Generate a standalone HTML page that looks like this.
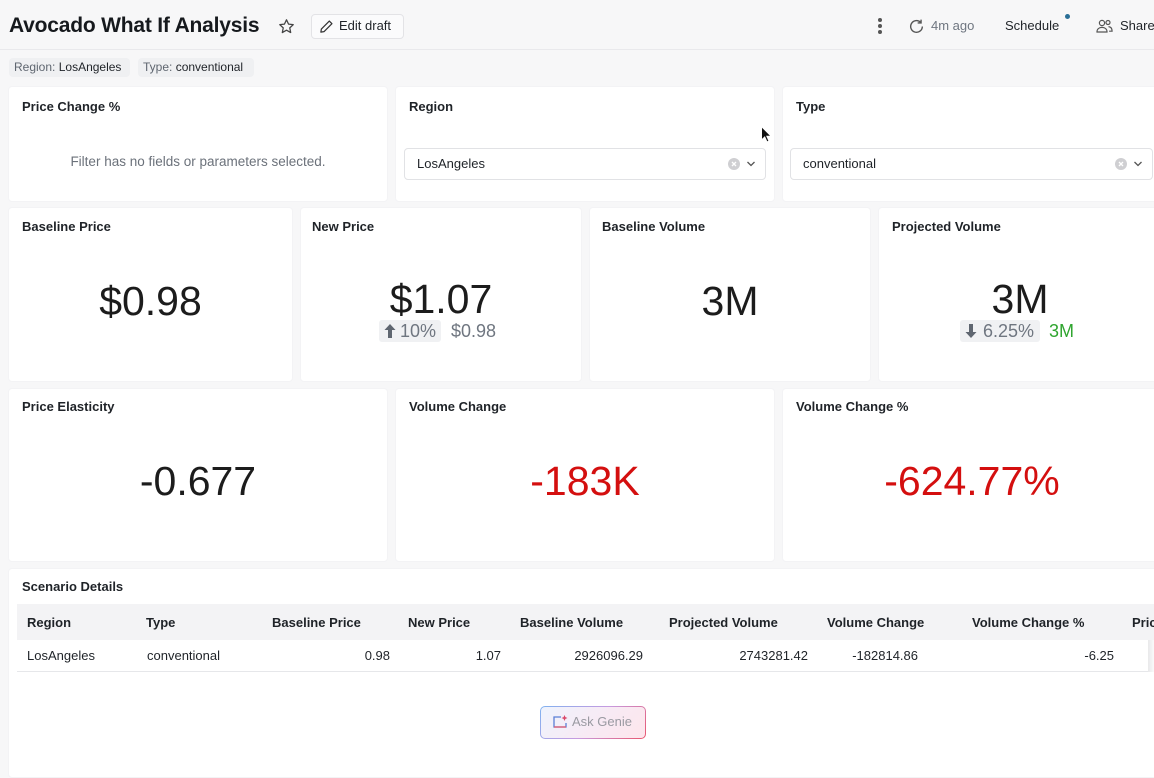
<!DOCTYPE html>
<html><head><meta charset="utf-8">
<style>
*{box-sizing:border-box;margin:0;padding:0}
html,body{width:1154px;height:766px;overflow:hidden;background:#f7f7f8;font-family:"Liberation Sans",Arial,sans-serif;color:#1f2328}
.a{position:absolute;white-space:nowrap}
.card{position:absolute;background:#fff;border:1px solid #f3f3f5;border-radius:4px}
.ct{position:absolute;font-size:13px;font-weight:bold;line-height:16px;color:#1f2328}
.big{position:absolute;font-size:41px;line-height:48px;text-align:center;color:#1c1c1c}
.th{position:absolute;font-size:13px;font-weight:bold;line-height:16px;top:615px;color:#1f2328}
.td{position:absolute;font-size:13px;line-height:16px;top:648px;color:#1f2328}
.r{text-align:right}
</style></head><body>

<!-- header -->
<div class="a" style="left:9px;top:13px;font-size:21px;font-weight:bold;line-height:26px;letter-spacing:-0.2px;color:#16191d">Avocado What If Analysis</div>
<svg class="a" style="left:278px;top:18px" width="17" height="17" viewBox="0 0 24 24"><path d="M12 2.5l2.9 6.1 6.6.8-4.9 4.5 1.3 6.6L12 17.2l-5.9 3.3 1.3-6.6-4.9-4.5 6.6-.8z" fill="none" stroke="#444" stroke-width="1.8" stroke-linejoin="round"/></svg>
<div class="a" style="left:311px;top:14px;width:93px;height:25px;border:1px solid #e3e3e6;border-radius:4px;background:#fbfbfc"></div>
<svg class="a" style="left:319px;top:19px" width="15" height="15" viewBox="0 0 16 16"><path d="M11 2.2l2.8 2.8L5.3 13.5 2 14l.5-3.3z" fill="none" stroke="#333" stroke-width="1.3" stroke-linejoin="round"/></svg>
<div class="a" style="left:339px;top:18px;font-size:13px;line-height:16px;color:#1f2328">Edit draft</div>

<div class="a" style="left:878px;top:18px;width:4px;height:4px;border-radius:2px;background:#555"></div>
<div class="a" style="left:878px;top:24px;width:4px;height:4px;border-radius:2px;background:#555"></div>
<div class="a" style="left:878px;top:30px;width:4px;height:4px;border-radius:2px;background:#555"></div>
<svg class="a" style="left:908px;top:18px" width="17" height="17" viewBox="0 0 16 16"><path d="M13.5 8A5.5 5.5 0 1 1 11.8 4" fill="none" stroke="#555" stroke-width="1.3"/><path d="M12.3 1.5v3.2H9.1" fill="none" stroke="#555" stroke-width="1.3"/></svg>
<div class="a" style="left:931px;top:18px;font-size:13px;line-height:16px;color:#6f7680">4m ago</div>
<div class="a" style="left:1005px;top:18px;font-size:13px;line-height:16px;color:#1f2328">Schedule</div>
<div class="a" style="left:1065px;top:14px;width:5px;height:5px;border-radius:3px;background:#2a6f97"></div>
<svg class="a" style="left:1096px;top:18px" width="17" height="16" viewBox="0 0 17 16"><circle cx="6" cy="5" r="2.6" fill="none" stroke="#555" stroke-width="1.2"/><path d="M1 14c0-3 2.2-4.6 5-4.6s5 1.6 5 4.6z" fill="none" stroke="#555" stroke-width="1.2"/><circle cx="12" cy="4.5" r="2" fill="none" stroke="#555" stroke-width="1.2"/><path d="M12.5 8.6c2.2.2 3.6 1.8 3.6 4.6h-3" fill="none" stroke="#555" stroke-width="1.2"/></svg>
<div class="a" style="left:1120px;top:18px;font-size:13px;line-height:16px;color:#1f2328">Share</div>
<div class="a" style="left:0;top:49px;width:1154px;height:1px;background:#e9e9ec"></div>

<!-- chips -->
<div class="a" style="left:9px;top:58px;width:121px;height:19px;background:#eff0f2;border-radius:4px"></div>
<div class="a" style="left:14px;top:60px;font-size:12px;line-height:15px"><span style="color:#5f6670">Region:</span> <span style="color:#1f2328">LosAngeles</span></div>
<div class="a" style="left:138px;top:58px;width:116px;height:19px;background:#eff0f2;border-radius:4px"></div>
<div class="a" style="left:143px;top:60px;font-size:12px;line-height:15px"><span style="color:#5f6670">Type:</span> <span style="color:#1f2328">conventional</span></div>

<!-- row 1 -->
<div class="card" style="left:8px;top:86px;width:380px;height:116px"></div>
<div class="ct" style="left:22px;top:99px">Price Change %</div>
<div class="a" style="left:8px;width:380px;top:154px;text-align:center;font-size:13.5px;line-height:16px;color:#6b717a">Filter has no fields or parameters selected.</div>

<div class="card" style="left:395px;top:86px;width:380px;height:116px"></div>
<div class="ct" style="left:409px;top:99px">Region</div>
<div class="a" style="left:404px;top:148px;width:362px;height:32px;border:1px solid #e1e2e5;border-radius:4px;background:#fff"></div>
<div class="a" style="left:417px;top:156px;font-size:13px;line-height:16px">LosAngeles</div>
<div class="a" style="left:728px;top:158px;width:12px;height:12px;border-radius:6px;background:#cfcfd2"></div>
<svg class="a" style="left:728px;top:158px" width="12" height="12" viewBox="0 0 12 12"><path d="M4 4l4 4M8 4l-4 4" stroke="#fff" stroke-width="1.3"/></svg>
<svg class="a" style="left:746px;top:160px" width="10" height="8" viewBox="0 0 10 8"><path d="M1.5 2l3.5 3.5L8.5 2" fill="none" stroke="#555" stroke-width="1.3"/></svg>

<div class="card" style="left:782px;top:86px;width:380px;height:116px"></div>
<div class="ct" style="left:796px;top:99px">Type</div>
<div class="a" style="left:790px;top:148px;width:363px;height:32px;border:1px solid #e1e2e5;border-radius:4px;background:#fff"></div>
<div class="a" style="left:803px;top:156px;font-size:13px;line-height:16px">conventional</div>
<div class="a" style="left:1115px;top:158px;width:12px;height:12px;border-radius:6px;background:#cfcfd2"></div>
<svg class="a" style="left:1115px;top:158px" width="12" height="12" viewBox="0 0 12 12"><path d="M4 4l4 4M8 4l-4 4" stroke="#fff" stroke-width="1.3"/></svg>
<svg class="a" style="left:1133px;top:160px" width="10" height="8" viewBox="0 0 10 8"><path d="M1.5 2l3.5 3.5L8.5 2" fill="none" stroke="#555" stroke-width="1.3"/></svg>

<!-- cursor -->
<svg class="a" style="left:760px;top:125px" width="12" height="19" viewBox="0 0 12 19"><path d="M1.5 1.5v13.5l3.2-3 2.3 5 2-.9-2.2-4.9h4.3z" fill="#111" stroke="#fff" stroke-width="1"/></svg>

<!-- row 2 -->
<div class="card" style="left:8px;top:207px;width:285px;height:175px"></div>
<div class="ct" style="left:22px;top:219px">Baseline Price</div>
<div class="big" style="left:8px;width:285px;top:277px">$0.98</div>

<div class="card" style="left:300px;top:207px;width:282px;height:175px"></div>
<div class="ct" style="left:312px;top:219px">New Price</div>
<div class="big" style="left:300px;width:282px;top:275px">$1.07</div>
<div class="a" style="left:379px;top:320px;width:62px;height:22px;background:#f0f1f3;border-radius:3px"></div>
<svg class="a" style="left:383px;top:322px" width="14" height="18" viewBox="0 0 14 18"><path d="M7 2L1.5 8h3.5v8h4V8h3.5z" fill="#5f6670"/></svg>
<div class="a" style="left:400px;top:320px;font-size:18px;line-height:22px;color:#6f7680">10%</div>
<div class="a" style="left:451px;top:320px;font-size:18px;line-height:22px;color:#6f7680">$0.98</div>

<div class="card" style="left:589px;top:207px;width:282px;height:175px"></div>
<div class="ct" style="left:602px;top:219px">Baseline Volume</div>
<div class="big" style="left:589px;width:282px;top:277px">3M</div>

<div class="card" style="left:878px;top:207px;width:284px;height:175px"></div>
<div class="ct" style="left:892px;top:219px">Projected Volume</div>
<div class="big" style="left:878px;width:284px;top:275px">3M</div>
<div class="a" style="left:960px;top:320px;width:80px;height:22px;background:#f0f1f3;border-radius:3px"></div>
<svg class="a" style="left:964px;top:322px" width="14" height="18" viewBox="0 0 14 18"><path d="M7 16L1.5 10h3.5V2h4v8h3.5z" fill="#5f6670"/></svg>
<div class="a" style="left:983px;top:320px;font-size:18px;line-height:22px;color:#6f7680">6.25%</div>
<div class="a" style="left:1049px;top:320px;font-size:18px;line-height:22px;color:#2fa52f">3M</div>

<!-- row 3 -->
<div class="card" style="left:8px;top:388px;width:380px;height:174px"></div>
<div class="ct" style="left:22px;top:399px">Price Elasticity</div>
<div class="big" style="left:8px;width:380px;top:457px">-0.677</div>

<div class="card" style="left:395px;top:388px;width:380px;height:174px"></div>
<div class="ct" style="left:409px;top:399px">Volume Change</div>
<div class="big" style="left:395px;width:380px;top:457px;color:#d40f0f">-183K</div>

<div class="card" style="left:782px;top:388px;width:380px;height:174px"></div>
<div class="ct" style="left:796px;top:399px">Volume Change %</div>
<div class="big" style="left:782px;width:380px;top:457px;color:#d40f0f">-624.77%</div>

<!-- row 4 table -->
<div class="card" style="left:8px;top:568px;width:1154px;height:210px"></div>
<div class="ct" style="left:22px;top:579px">Scenario Details</div>
<div class="a" style="left:17px;top:604px;width:1137px;height:36px;background:#f3f3f5"></div>
<div class="a" style="left:17px;top:671px;width:1132px;height:1px;background:#e6e7ea"></div>
<div class="a" style="left:1148px;top:640px;width:6px;height:32px;background:linear-gradient(90deg,#e8e8ea,#fafafa)"></div>

<div class="th" style="left:27px">Region</div>
<div class="th" style="left:146px">Type</div>
<div class="th" style="left:272px">Baseline Price</div>
<div class="th" style="left:408px">New Price</div>
<div class="th" style="left:520px">Baseline Volume</div>
<div class="th" style="left:669px">Projected Volume</div>
<div class="th" style="left:827px">Volume Change</div>
<div class="th" style="left:972px">Volume Change %</div>
<div class="th" style="left:1132px">Price</div>

<div class="td" style="left:27px">LosAngeles</div>
<div class="td" style="left:147px">conventional</div>
<div class="td r" style="left:290px;width:100px">0.98</div>
<div class="td r" style="left:401px;width:100px">1.07</div>
<div class="td r" style="left:503px;width:140px">2926096.29</div>
<div class="td r" style="left:668px;width:140px">2743281.42</div>
<div class="td r" style="left:778px;width:140px">-182814.86</div>
<div class="td r" style="left:1014px;width:100px">-6.25</div>

<!-- Ask Genie -->
<div class="a" style="left:540px;top:706px;width:106px;height:33px;border-radius:5px;padding:1px;background:linear-gradient(135deg,#7fb2f0,#c79be0 50%,#e9566e)">
  <div style="width:100%;height:100%;border-radius:4px;background:linear-gradient(135deg,#eef3fd,#f8eaf4 55%,#fde6ec)"></div>
</div>
<svg class="a" style="left:552px;top:714px" width="17" height="16" viewBox="0 0 17 16"><path d="M9 3H2v10h12V9" fill="none" stroke="#5a7fd6" stroke-width="1.3"/><path d="M2 13h12" stroke="#e05a70" stroke-width="1.3"/><path d="M12.5 1l.9 2.1 2.1.9-2.1.9-.9 2.1-.9-2.1-2.1-.9 2.1-.9z" fill="#d9486a"/></svg>
<div class="a" style="left:572px;top:714px;font-size:13px;line-height:16px;color:#9a9aa2">Ask Genie</div>

</body></html>
